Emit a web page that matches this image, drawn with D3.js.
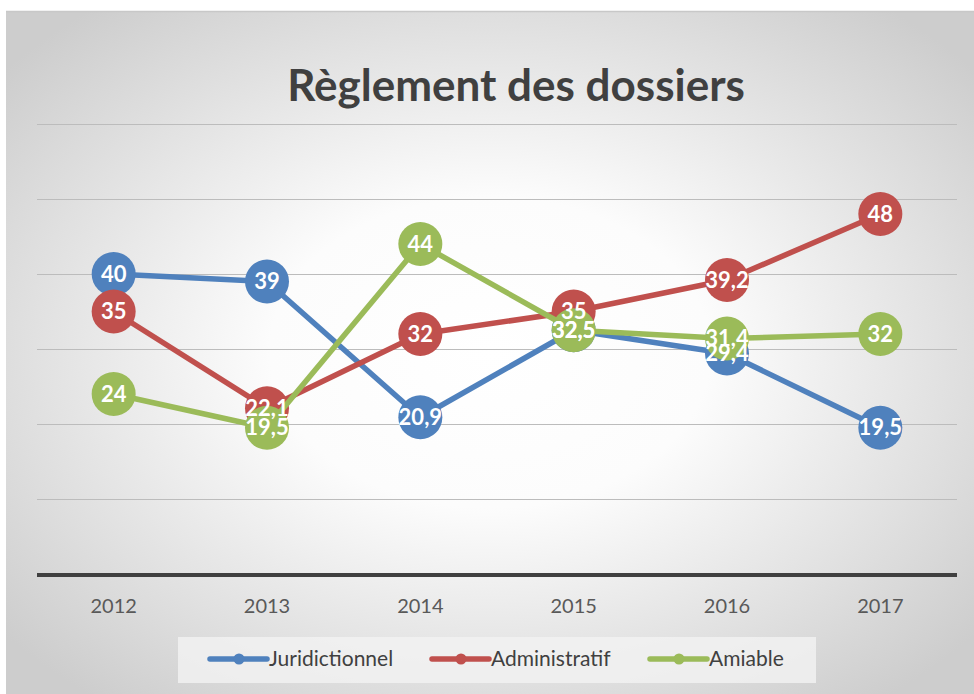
<!DOCTYPE html>
<html>
<head>
<meta charset="utf-8">
<script src="https://cdn.jsdelivr.net/npm/d3@7"></script>
<style>
  body { margin: 0; background: #fff; }
  svg { display: block; }
</style>
</head>
<body>
<svg id="chart"></svg>
<script>
// Data
var years = ["2012", "2013", "2014", "2015", "2016", "2017"];
var juridictionnel = [40, 39, 20.9, 32.5, 29.4, 19.5];
var administratif = [35, 22.1, 32, 35, 39.2, 48];
var amiable = [24, 19.5, 44, 32.5, 31.4, 32];
var yTicks = [0, 10, 20, 30, 40, 50, 60];

var series = [
  { name: "Juridictionnel", values: juridictionnel, color: "#4f81bd" },
  { name: "Administratif", values: administratif, color: "#c0504d" },
  { name: "Amiable", values: amiable, color: "#9bbb59" }
];

var W = 974, H = 694;
var font = "Lato, 'Open Sans', sans-serif";
var svg = d3.select("#chart").attr("width", W).attr("height", H);

// background gradient
var defs = svg.append("defs");
var grad = defs.append("radialGradient").attr("id", "bg")
  .attr("cx", "50%").attr("cy", "50%").attr("r", "65%");
grad.append("stop").attr("offset", "0%").attr("stop-color", "#ffffff");
grad.append("stop").attr("offset", "35%").attr("stop-color", "#fcfcfc");
grad.append("stop").attr("offset", "100%").attr("stop-color", "#cdcdcd");

svg.append("rect").attr("x", 6).attr("y", 11).attr("width", W - 6).attr("height", H - 11)
  .attr("fill", "url(#bg)");
svg.append("line").attr("x1", 6).attr("x2", W).attr("y1", 11.5).attr("y2", 11.5)
  .attr("stroke", "#c8c8c8").attr("stroke-width", 1.5);

var x = d3.scaleBand().domain(years).range([37, 957]);
var y = d3.scaleLinear().domain([0, 60]).range([574, 124]);

// gridlines
svg.append("g").selectAll("line")
  .data(yTicks.slice(1))
  .enter().append("line")
  .attr("x1", 37).attr("x2", 957)
  .attr("y1", function (d) { return Math.round(y(d)) + 0.5; })
  .attr("y2", function (d) { return Math.round(y(d)) + 0.5; })
  .attr("stroke", "#bcbcbc").attr("stroke-width", 1.2);

// baseline
svg.append("line").attr("x1", 37).attr("x2", 957)
  .attr("y1", y(0) + 1).attr("y2", y(0) + 1)
  .attr("stroke", "#404040").attr("stroke-width", 4);

// x axis labels
svg.append("g").selectAll("text")
  .data(years)
  .enter().append("text")
  .attr("x", function (d) { return x(d) + x.bandwidth() / 2; })
  .attr("y", 613)
  .attr("text-anchor", "middle")
  .style("font-family", font).style("font-size", "20px").style("fill", "#595959")
  .text(function (d) { return d; });

// title
svg.append("text")
  .attr("x", 516).attr("y", 101)
  .attr("text-anchor", "middle")
  .style("font-family", font).style("font-size", "44px").style("font-weight", "bold")
  .style("fill", "#404040")
  .text("Règlement des dossiers");

var cx = function (i) { return x(years[i]) + x.bandwidth() / 2; };
var line = d3.line()
  .x(function (d, i) { return cx(i); })
  .y(function (d) { return y(d); });
var fmt = function (v) { return String(v).replace(".", ","); };

var marks = svg.append("g");
var labels = svg.append("g"); // labels sit above every series, like Excel

series.forEach(function (s) {
  var g = marks.append("g");
  g.append("path")
    .attr("d", line(s.values))
    .attr("fill", "none")
    .attr("stroke", s.color)
    .attr("stroke-width", 5.5)
    .attr("stroke-linejoin", "round");
  g.selectAll("circle")
    .data(s.values)
    .enter().append("circle")
    .attr("cx", function (d, i) { return cx(i); })
    .attr("cy", function (d) { return y(d); })
    .attr("r", 22)
    .attr("fill", s.color);
  labels.append("g").selectAll("text")
    .data(s.values)
    .enter().append("text")
    .attr("x", function (d, i) { return cx(i); })
    .attr("y", function (d) { return y(d) + 7.5; })
    .attr("text-anchor", "middle")
    .style("font-family", font).style("font-size", "22px").style("font-weight", "bold")
    .style("fill", "#ffffff")
    .text(function (d) { return fmt(d); });
});

// legend
var legend = svg.append("g");
legend.append("rect").attr("x", 178).attr("y", 637).attr("width", 638).attr("height", 46)
  .attr("fill", "#f2f2f2").attr("fill-opacity", 0.8);
var legendX = [210, 432, 650];
series.forEach(function (s, i) {
  var lx = legendX[i];
  legend.append("line").attr("x1", lx).attr("x2", lx + 57)
    .attr("y1", 659).attr("y2", 659)
    .attr("stroke", s.color).attr("stroke-width", 5.5).attr("stroke-linecap", "round");
  legend.append("circle").attr("cx", lx + 29).attr("cy", 659).attr("r", 5.5).attr("fill", s.color);
  legend.append("text").attr("x", lx + 59).attr("y", 666)
    .style("font-family", font).style("font-size", "21px").style("fill", "#404040")
    .text(s.name);
});
</script>
</body>
</html>
